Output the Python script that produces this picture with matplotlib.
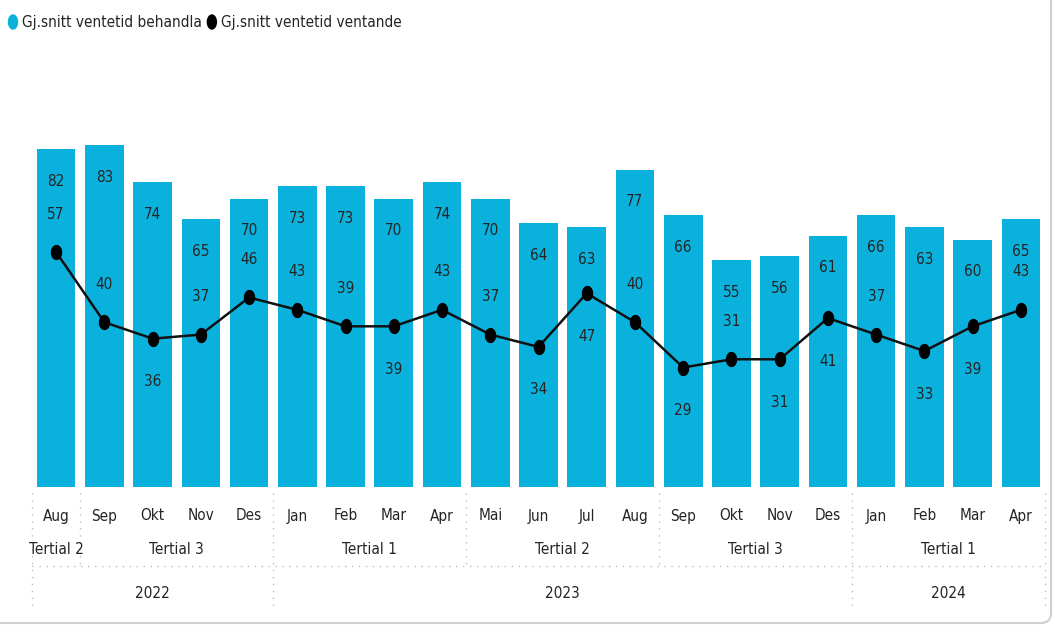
import matplotlib
matplotlib.use("Agg")
import matplotlib.pyplot as plt
import matplotlib.transforms as mtransforms
import numpy as np
from matplotlib import font_manager
from matplotlib.patches import FancyBboxPatch, Ellipse
from matplotlib.path import Path

MONTHS = ["Aug", "Sep", "Okt", "Nov", "Des", "Jan", "Feb", "Mar", "Apr", "Mai", "Jun",
          "Jul", "Aug", "Sep", "Okt", "Nov", "Des", "Jan", "Feb", "Mar", "Apr"]
TERTIALS = [("Tertial 2", 0, 0), ("Tertial 3", 1, 4), ("Tertial 1", 5, 8),
            ("Tertial 2", 9, 12), ("Tertial 3", 13, 16), ("Tertial 1", 17, 20)]
YEARS = [("2022", 0, 4), ("2023", 5, 16), ("2024", 17, 20)]
BEHANDLA = [82, 83, 74, 65, 70, 73, 73, 70, 74, 70, 64, 63, 77, 66, 55, 56, 61, 66, 63, 60, 65]
VENTANDE = [57, 40, 36, 37, 46, 43, 39, 39, 43, 37, 34, 47, 40, 29, 31, 31, 41, 37, 33, 39, 43]
SERIES_NAMES = ["Gj.snitt ventetid behandla", "Gj.snitt ventetid ventande"]

# which side of the point each line label sits on (1 above, -1 below)
LABEL_SIDE = [1, 1, -1, 1, 1, 1, 1, -1, 1, 1, -1, -1, 1, -1, 1, -1, -1, 1, -1, -1, 1]

BAR_COLOR = "#0BB1DD"
TEXT_COLOR = "#252423"
GRID_COLOR = "#BDBDBD"
FS = 11

W, H = 1056, 627

# the reference uses a narrow face; take a condensed one when it is there
fonts = font_manager.fontManager.ttflist
if any(f.name == "DejaVu Sans Condensed" for f in fonts):
    plt.rcParams["font.family"] = ["DejaVu Sans Condensed", "DejaVu Sans"]
elif any(f.name == "DejaVu Sans" and f.stretch == "condensed" for f in fonts):
    plt.rcParams["font.family"] = ["DejaVu Sans"]
    plt.rcParams["font.stretch"] = "condensed"
else:
    plt.rcParams["font.family"] = ["Liberation Sans", "DejaVu Sans"]

fig = plt.figure(figsize=(W / 100, H / 100), dpi=100)
fig.patch.set_facecolor("white")

# axes in pixel terms: x from 32 to 1045, y baseline at 487, 4.12 px per unit
y_top = 105
ax = fig.add_axes([32 / W, (H - 487) / H, (1045 - 32) / W, y_top * 4.12 / H])
ax.set_xlim(-0.5, len(MONTHS) - 0.5)
ax.set_ylim(0, y_top)
ax.axis("off")

x = np.arange(len(MONTHS))
ax.bar(x, BEHANDLA, width=0.8, color=BAR_COLOR, zorder=1)

t = np.linspace(0, 2 * np.pi, 64)
ellipse = Path(np.column_stack([0.72 * np.cos(t), np.sin(t)]), closed=True)
ax.plot(x, VENTANDE, color="#111111", linewidth=1.8, marker=ellipse, markersize=10,
        markerfacecolor="black", markeredgecolor="black", zorder=3)

for xi, v in zip(x, BEHANDLA):
    ax.annotate(f"{v}", (xi, v), xytext=(0, -32), textcoords="offset pixels",
                ha="center", va="center", fontsize=FS, color=TEXT_COLOR, zorder=4)
for xi, v, side in zip(x, VENTANDE, LABEL_SIDE):
    off = 38 if side > 0 else -43
    ax.annotate(f"{v}", (xi, v), xytext=(0, off), textcoords="offset pixels",
                ha="center", va="center", fontsize=FS, color=TEXT_COLOR, zorder=4)

# pixel transforms (y measured from top of image)
pix = mtransforms.Affine2D().scale(1, -1).translate(0, H)
xpix = mtransforms.blended_transform_factory(ax.transData, pix)

dot = dict(color=GRID_COLOR, linewidth=1, linestyle=(0, (1, 4)))

for xi, m in zip(x, MONTHS):
    ax.text(xi, 516, m, transform=xpix, ha="center", va="center", fontsize=FS, color=TEXT_COLOR)
for name, a, b in TERTIALS:
    ax.text((a + b) / 2, 549, name, transform=xpix, ha="center", va="center",
            fontsize=FS, color=TEXT_COLOR)
for name, a, b in YEARS:
    ax.text((a + b) / 2, 593, name, transform=xpix, ha="center", va="center",
            fontsize=FS, color=TEXT_COLOR)

year_edges = {YEARS[0][1] - 0.5} | {b + 0.5 for _, _, b in YEARS}
tertial_edges = {a - 0.5 for _, a, _ in TERTIALS}
for e in sorted(tertial_edges | year_edges):
    bottom = 610 if e in year_edges else 566
    ax.plot([e, e], [493, bottom], transform=xpix, clip_on=False, **dot)
ax.plot([-0.5, len(MONTHS) - 0.5], [566, 566], transform=xpix, clip_on=False, **dot)

# legend, second entry placed after the first text
renderer = fig.canvas.get_renderer()
fig.add_artist(Ellipse((13, 22), 9, 14, transform=pix, color=BAR_COLOR))
first = fig.text(22, 22, SERIES_NAMES[0], transform=pix, ha="left", va="center",
                 fontsize=FS, color=TEXT_COLOR)
x_end = first.get_window_extent(renderer).x1
fig.add_artist(Ellipse((x_end + 10, 22), 9, 14, transform=pix, color="black"))
fig.text(x_end + 19, 22, SERIES_NAMES[1], transform=pix, ha="left", va="center",
         fontsize=FS, color=TEXT_COLOR)

# card border
card = FancyBboxPatch((-0.2, 0.04), 10.71, 6.6, boxstyle="round,pad=0,rounding_size=0.1",
                      transform=fig.dpi_scale_trans, facecolor="none",
                      edgecolor="#CFCFCF", linewidth=1.5)
fig.add_artist(card)

fig.savefig("out.png", dpi=100)
